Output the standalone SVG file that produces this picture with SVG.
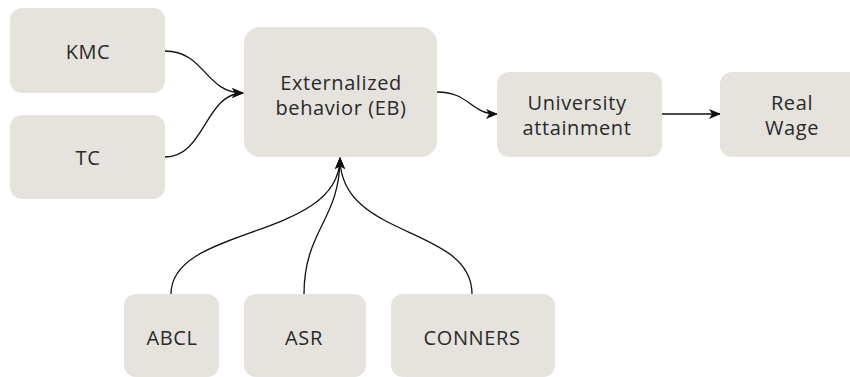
<svg xmlns="http://www.w3.org/2000/svg" width="850" height="377" viewBox="0 0 850 377">
<style>
.box{fill:#e6e3de;}
.lbl{font-family:"Open Sans","Noto Sans",sans-serif;font-size:20px;letter-spacing:0.6px;fill:#2a2a2a;text-anchor:middle;dominant-baseline:central;}
.edge{fill:none;stroke:#111;stroke-width:1.3;marker-end:url(#arr);}
</style>
<defs>
<marker id="arr" viewBox="0 0 12 10" refX="11" refY="5" markerWidth="12" markerHeight="10" markerUnits="userSpaceOnUse" orient="auto">
<path d="M0,0 L12,5 L0,10 L3,5 z" fill="#111"/>
</marker>
</defs>
<rect width="850" height="377" fill="#ffffff"/>
<g id="connectors">
<path class="edge" d="M165,51 C205,51 205,93 243,93"/>
<path class="edge" d="M165,157 C205,157 205,93 243,93"/>
<path class="edge" d="M437,92 C470,92 470,114 497,114"/>
<path class="edge" d="M662,114 L720,114"/>
<path class="edge" d="M171,294 C171,225 340,240 340,158"/>
<path class="edge" d="M304,294 C304,230 340,220 340,158"/>
<path class="edge" d="M472,294 C472,225 340,240 340,158"/>
</g>
<g id="KMC"><rect class="box" x="10" y="8" width="155" height="85" rx="12"/><text class="lbl" x="88" y="51">KMC</text></g>
<g id="TC"><rect class="box" x="10" y="115" width="155" height="84" rx="12"/><text class="lbl" x="88" y="157">TC</text></g>
<g id="EB"><rect class="box" x="244" y="27" width="193" height="130" rx="16"/><text class="lbl" x="341" y="82">Externalized</text><text class="lbl" x="341" y="107">behavior (EB)</text></g>
<g id="UA"><rect class="box" x="497" y="72" width="165" height="85" rx="12"/><text class="lbl" x="577" y="102">University</text><text class="lbl" x="577" y="127">attainment</text></g>
<g id="RW"><rect class="box" x="720" y="72" width="145" height="85" rx="12"/><text class="lbl" x="792" y="102">Real</text><text class="lbl" x="792" y="127">Wage</text></g>
<g id="ABCL"><rect class="box" x="124" y="294" width="95" height="83" rx="12"/><text class="lbl" x="172" y="337">ABCL</text></g>
<g id="ASR"><rect class="box" x="244" y="294" width="122" height="83" rx="12"/><text class="lbl" x="304" y="337">ASR</text></g>
<g id="CONNERS"><rect class="box" x="391" y="294" width="164" height="83" rx="12"/><text class="lbl" x="472" y="337">CONNERS</text></g>
</svg>
